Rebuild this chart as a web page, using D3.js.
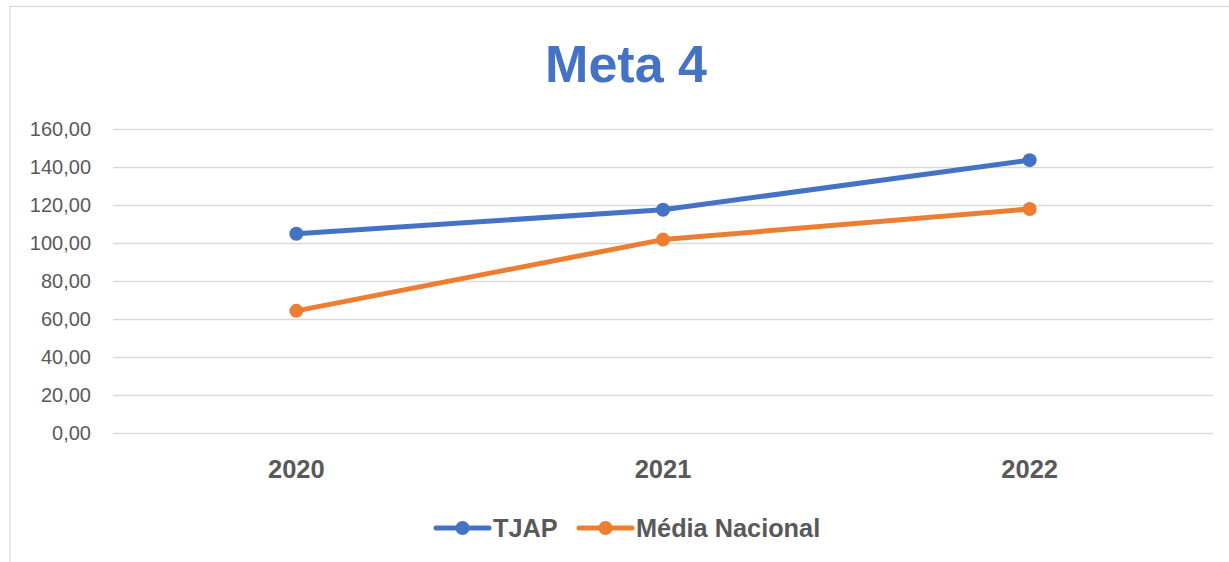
<!DOCTYPE html>
<html>
<head>
<meta charset="utf-8">
<script src="https://cdn.jsdelivr.net/npm/d3@7"></script>
<style>
  html, body { margin: 0; padding: 0; background: #ffffff; }
  svg { display: block; }
</style>
</head>
<body>
<svg id="chart" width="1229" height="562"></svg>
<script>
// Yearly series for "Meta 4"
const years = ["2020", "2021", "2022"];
const tjap = [104.9, 117.5, 143.6];
const mediaNacional = [64.3, 101.8, 117.9];
const yTicks = [0, 20, 40, 60, 80, 100, 120, 140, 160];
const seriesNames = ["TJAP", "Média Nacional"];
const seriesColors = ["#4472C4", "#ED7D31"];

const svg = d3.select("#chart");
const W = 1229, H = 562;
const plot = { left: 113, right: 1213, top: 129, bottom: 433 };
const textGray = "#595959";
const font = "'Liberation Sans', Arial, sans-serif";

// Chart frame
svg.append("rect")
  .attr("x", 10).attr("y", 6.5)
  .attr("width", W + 20).attr("height", H + 20)
  .attr("fill", "none")
  .attr("stroke", "#d9d9d9")
  .attr("stroke-width", 1.3);

// Title
svg.append("text")
  .attr("x", 626).attr("y", 82)
  .attr("text-anchor", "middle")
  .attr("font-family", font)
  .attr("font-weight", "bold")
  .attr("font-size", 52)
  .attr("fill", "#4472C4")
  .text("Meta 4");

const x = d3.scaleBand().domain(years).range([plot.left, plot.right]);
const y = d3.scaleLinear().domain([0, 160]).range([plot.bottom, plot.top]);
const fmt = v => d3.format(".2f")(v).replace(".", ",");

// Gridlines and y labels
const yAxis = d3.axisLeft(y)
  .tickValues(yTicks)
  .tickSize(-(plot.right - plot.left))
  .tickPadding(22)
  .tickFormat(fmt);
const gy = svg.append("g")
  .attr("transform", `translate(${plot.left},0)`)
  .call(yAxis);
gy.select(".domain").remove();
gy.selectAll(".tick line").attr("stroke", "#d9d9d9").attr("stroke-width", 1.5);
gy.selectAll(".tick text")
  .attr("fill", textGray)
  .attr("font-family", font)
  .attr("font-size", 20);

// Category labels
const xAxis = d3.axisBottom(x).tickSize(0).tickPadding(27);
const gx = svg.append("g")
  .attr("transform", `translate(0,${plot.bottom})`)
  .call(xAxis);
gx.select(".domain").remove();
gx.selectAll(".tick text")
  .attr("fill", textGray)
  .attr("font-family", font)
  .attr("font-weight", "bold")
  .attr("font-size", 25.5);

// Lines and markers
const cx = d => x(d) + x.bandwidth() / 2;
[tjap, mediaNacional].forEach((vals, i) => {
  const pts = years.map((yr, j) => [cx(yr), y(vals[j])]);
  svg.append("path")
    .attr("d", d3.line()(pts))
    .attr("fill", "none")
    .attr("stroke", seriesColors[i])
    .attr("stroke-width", 5)
    .attr("stroke-linejoin", "round")
    .attr("stroke-linecap", "round");
  svg.selectAll(null).data(pts).enter().append("circle")
    .attr("cx", d => d[0]).attr("cy", d => d[1])
    .attr("r", 7)
    .attr("fill", seriesColors[i]);
});

// Legend
const legendY = 528;
const legendItems = [
  { x: 436, name: seriesNames[0], color: seriesColors[0] },
  { x: 579, name: seriesNames[1], color: seriesColors[1] }
];
legendItems.forEach(it => {
  const g = svg.append("g").attr("transform", `translate(${it.x},${legendY})`);
  g.append("line")
    .attr("x1", 0).attr("x2", 53)
    .attr("stroke", it.color).attr("stroke-width", 5)
    .attr("stroke-linecap", "round");
  g.append("circle").attr("cx", 26.5).attr("cy", 0).attr("r", 7).attr("fill", it.color);
  g.append("text")
    .attr("x", 57).attr("y", 0)
    .attr("dy", "0.36em")
    .attr("font-family", font)
    .attr("font-weight", "bold")
    .attr("font-size", 25.3)
    .attr("fill", textGray)
    .text(it.name);
});
</script>
</body>
</html>
